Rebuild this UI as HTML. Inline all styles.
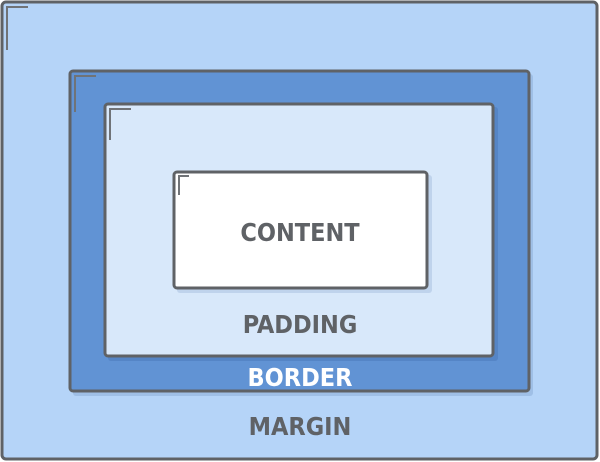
<!DOCTYPE html>
<html><head><meta charset="utf-8"><style>html,body{margin:0;padding:0;background:#fff}svg{display:block}text{font-family:"DejaVu Sans Condensed","DejaVu Sans","Liberation Sans",sans-serif;font-stretch:condensed;font-weight:bold;font-size:25px;text-anchor:middle}</style></head>
<body>
<svg width="600" height="462" viewBox="0 0 600 462">
<rect x="2" y="2" width="595" height="457" rx="4" fill="#b5d4f8" stroke="#5f6266" stroke-width="3"/>
<path d="M7 50V7H28" fill="none" stroke="#707377" stroke-width="2"/>
<rect x="73" y="74" width="460" height="322" rx="3" fill="#9fbfe6"/>
<rect x="70" y="71" width="459" height="320" rx="3" fill="#6193d4" stroke="#5f6266" stroke-width="3"/>
<path d="M75 112V76H96" fill="none" stroke="#707377" stroke-width="2"/>
<rect x="108" y="107" width="390" height="254" rx="3" fill="#5585c6"/>
<rect x="105" y="104" width="388" height="252" rx="3" fill="#d8e8fa" stroke="#5f6266" stroke-width="3"/>
<path d="M110 140V109H131" fill="none" stroke="#707377" stroke-width="2"/>
<rect x="177" y="175" width="255" height="118" rx="3" fill="#bfd3ec"/>
<rect x="174" y="172" width="253" height="116" rx="3" fill="#ffffff" stroke="#5f6266" stroke-width="3"/>
<path d="M179 195V176H189" fill="none" stroke="#707377" stroke-width="2"/>
<text x="300" y="241" fill="#5f6266">CONTENT</text>
<text x="300" y="333" fill="#5f6266">PADDING</text>
<text x="300" y="386" fill="#ffffff">BORDER</text>
<text x="300" y="435" fill="#5f6266">MARGIN</text>
</svg>
</body></html>
